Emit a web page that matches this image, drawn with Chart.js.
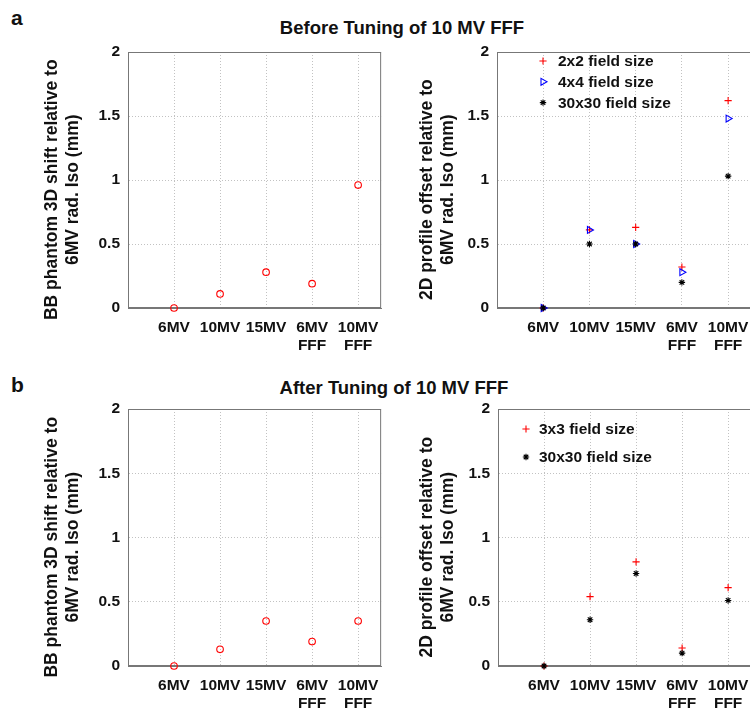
<!DOCTYPE html>
<html>
<head>
<meta charset="utf-8">
<script src="https://cdn.jsdelivr.net/npm/chart.js@4.4.1/dist/chart.umd.min.js"></script>
<style>
  body { margin: 0; background: #fff; overflow: hidden; font-family: "Liberation Sans", Arial, sans-serif; }
  #page { position: relative; width: 750px; height: 713px; overflow: hidden; }
  .panel { position: absolute; }
  .tag { position: absolute; font-weight: bold; font-size: 21px; line-height: 1; color: #111; }
  .head { position: absolute; font-weight: bold; font-size: 18.5px; line-height: 1; color: #111; transform: translateX(-50%); white-space: nowrap; }
</style>
</head>
<body>
<div id="page">
  <div class="tag" style="left:11px;top:7px">a</div>
  <div class="head" style="left:402px;top:19px">Before Tuning of 10 MV FFF</div>
  <div class="tag" style="left:11px;top:374px">b</div>
  <div class="head" style="left:394px;top:379px">After Tuning of 10 MV FFF</div>

  <div class="panel" style="left:0;top:0"><canvas id="bbBeforeChart" width="390" height="360"></canvas></div>
  <div class="panel" style="left:380px;top:0"><canvas id="profBeforeChart" width="380" height="360"></canvas></div>
  <div class="panel" style="left:0;top:360px"><canvas id="bbAfterChart" width="390" height="353"></canvas></div>
  <div class="panel" style="left:380px;top:360px"><canvas id="profAfterChart" width="380" height="353"></canvas></div>
</div>

<script>
// ---- data ----
const categories = ['6MV', '10MV', '15MV', ['6MV', 'FFF'], ['10MV', 'FFF']];
const yTicks = [0, 0.5, 1, 1.5, 2];

const bbBefore    = [0, 0.11, 0.28, 0.19, 0.96];
const before2x2   = [0, 0.61, 0.63, 0.32, 1.62];
const before4x4   = [0, 0.61, 0.50, 0.28, 1.48];
const before30x30 = [0, 0.50, 0.50, 0.20, 1.03];

const bbAfter     = [0, 0.13, 0.35, 0.19, 0.35];
const after3x3    = [0, 0.54, 0.81, 0.14, 0.61];
const after30x30  = [0, 0.36, 0.72, 0.10, 0.51];

// trailing spaces push the label a little below the axis centre, as in the figure
const bbTitle   = ['BB phantom 3D shift relative to    ', '6MV rad. Iso (mm)    '];
const profTitle = ['2D profile offset relative to    ', '6MV rad. Iso (mm)    '];

// ---- helpers ----
const FONT = '"Liberation Sans", Arial, sans-serif';
const toPoints = vals => vals.map((y, i) => ({ x: i + 1, y }));

function series(label, vals, style, color, radius, extra) {
  return Object.assign({
    label,
    data: toPoints(vals),
    showLine: false,
    pointStyle: style,
    pointRadius: radius,
    pointHoverRadius: radius,
    pointBorderColor: color,
    pointBackgroundColor: 'rgba(0,0,0,0)',
    pointBorderWidth: 1.1,
    clip: false
  }, extra || {});
}

// box around the plot area, like MATLAB "box on"
const boxPlugin = {
  id: 'box',
  beforeDatasetsDraw(chart) {
    const { ctx, chartArea: a } = chart;
    ctx.save();
    ctx.strokeStyle = '#777';
    ctx.lineWidth = 1;
    ctx.strokeRect(a.left + 0.5, a.top + 0.5, a.right - a.left - 1, a.bottom - a.top - 1);
    ctx.restore();
  }
};

// legend drawn inside the axes
const keyPlugin = {
  id: 'key',
  afterDatasetsDraw(chart, args, opts) {
    const { ctx, chartArea: a } = chart;
    ctx.save();
    chart.data.datasets.forEach((ds, i) => {
      const x = a.left + opts.x;
      const y = a.top + opts.y + i * opts.gap;
      ctx.strokeStyle = ds.pointBorderColor;
      ctx.fillStyle = 'rgba(0,0,0,0)';
      ctx.lineWidth = ds.pointBorderWidth;
      Chart.helpers.drawPoint(ctx, {
        pointStyle: ds.pointStyle,
        radius: ds.pointRadius,
        rotation: ds.pointRotation || 0,
        borderWidth: ds.pointBorderWidth
      }, x, y);
      ctx.fillStyle = '#111';
      ctx.font = 'bold 15.5px ' + FONT;
      ctx.textBaseline = 'middle';
      ctx.textAlign = 'left';
      ctx.fillText(ds.label, a.left + opts.textX, y + 1);
    });
    ctx.restore();
  }
};

function makeOptions(cfg) {
  return {
    responsive: false,
    animation: false,
    layout: { padding: { top: cfg.top, right: 7, left: 0, bottom: 0 } },
    plugins: {
      legend: { display: false },
      tooltip: { enabled: false },
      key: cfg.key || {}
    },
    scales: {
      x: {
        type: 'linear',
        min: 0,
        max: 5.5,
        afterBuildTicks: s => { s.ticks = categories.map((_, i) => ({ value: i + 1 })); },
        afterFit: s => { s.height = cfg.xh; },
        ticks: {
          callback: (v, i) => categories[i],
          autoSkip: false,
          maxRotation: 0,
          padding: 11,
          color: '#111',
          font: { family: FONT, size: 15.5, weight: 'bold', lineHeight: 1.15 }
        },
        grid: { color: '#c2c2c2', drawTicks: false },
        border: { color: '#777', dash: [1, 2] }
      },
      y: {
        min: 0,
        max: 2,
        afterBuildTicks: s => { s.ticks = yTicks.map(v => ({ value: v })); },
        afterFit: s => { s.width = cfg.yw; },
        ticks: {
          callback: v => String(v),
          padding: 8,
          color: '#111',
          font: { family: FONT, size: 15.5, weight: 'bold' }
        },
        grid: { color: '#c2c2c2', drawTicks: false },
        border: { color: '#777', dash: [1, 2] },
        title: {
          display: true,
          text: cfg.title,
          color: '#111',
          font: { family: FONT, size: 17.5, weight: 'bold', lineHeight: 1.2 },
          padding: { top: cfg.titlePad, bottom: 0 }
        }
      }
    }
  };
}

// ---- a: before tuning ----
new Chart(document.getElementById('bbBeforeChart'), {
  type: 'scatter',
  data: { datasets: [series('BB', bbBefore, 'circle', '#ff0000', 3.3)] },
  options: makeOptions({ top: 52, xh: 52, yw: 128, title: bbTitle, titlePad: 42 }),
  plugins: [boxPlugin]
});

new Chart(document.getElementById('profBeforeChart'), {
  type: 'scatter',
  data: {
    datasets: [
      series('2x2 field size', before2x2, 'cross', '#ff0000', 3.6, { order: 3 }),
      series('4x4 field size', before4x4, 'triangle', '#0000ff', 4, { order: 2, pointRotation: 90 }),
      series('30x30 field size', before30x30, 'star', '#000000', 3.2, { order: 1 })
    ]
  },
  options: makeOptions({ top: 52, xh: 52, yw: 117, title: profTitle, titlePad: 37,
    key: { x: 46, y: 9, gap: 20.8, textX: 61 } }),
  plugins: [boxPlugin, keyPlugin]
});

// ---- b: after tuning ----
new Chart(document.getElementById('bbAfterChart'), {
  type: 'scatter',
  data: { datasets: [series('BB', bbAfter, 'circle', '#ff0000', 3.3)] },
  options: makeOptions({ top: 49, xh: 47, yw: 128, title: bbTitle, titlePad: 42 }),
  plugins: [boxPlugin]
});

new Chart(document.getElementById('profAfterChart'), {
  type: 'scatter',
  data: {
    datasets: [
      series('3x3 field size', after3x3, 'cross', '#ff0000', 3.6, { order: 2 }),
      series('30x30 field size', after30x30, 'star', '#000000', 3.2, { order: 1 })
    ]
  },
  options: makeOptions({ top: 49, xh: 47, yw: 118, title: profTitle, titlePad: 37,
    key: { x: 28, y: 20, gap: 28, textX: 41 } }),
  plugins: [boxPlugin, keyPlugin]
});
</script>
</body>
</html>
